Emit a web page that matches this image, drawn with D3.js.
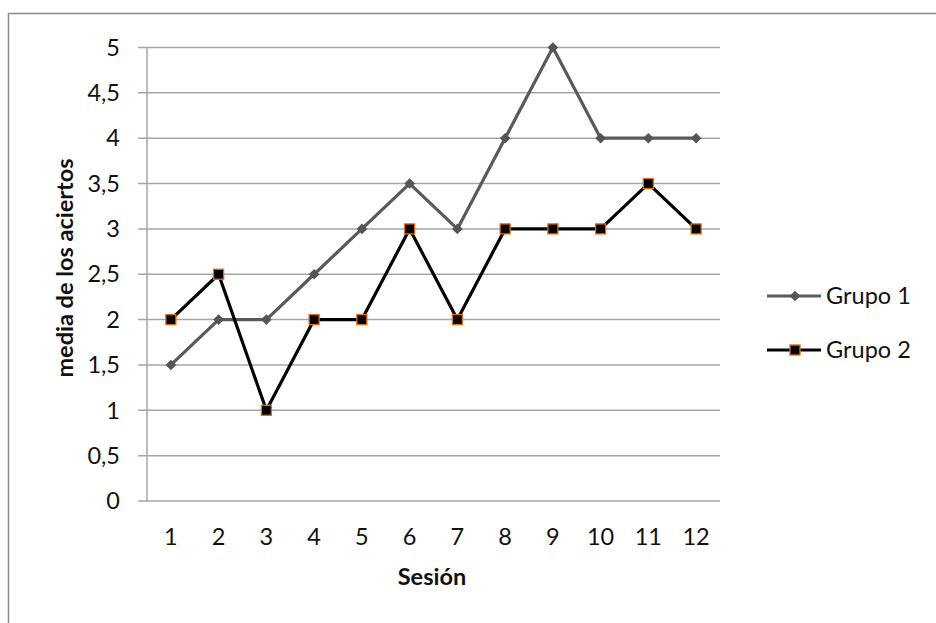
<!DOCTYPE html>
<html>
<head>
<meta charset="utf-8">
<script src="https://cdn.jsdelivr.net/npm/d3@7/dist/d3.min.js"></script>
<style>
html,body{margin:0;padding:0;background:#fff;overflow:hidden;}
text{font-family:Lato,"Open Sans",sans-serif;}
</style>
</head>
<body>
<svg id="chart" width="936" height="623"></svg>
<script>
const sessions = ["1","2","3","4","5","6","7","8","9","10","11","12"];
const grupo1 = [1.5,2,2,2.5,3,3.5,3,4,5,4,4,4];
const grupo2 = [2,2.5,1,2,2,3,2,3,3,3,3.5,3];
const yTicks = [0,0.5,1,1.5,2,2.5,3,3.5,4,4.5,5];
const seriesNames = ["Grupo 1","Grupo 2"];

const svg = d3.select("#chart");
const m = {left:147, top:47.5, right:720, bottom:501};
const FS = 23.5;

// outer frame
svg.append("rect").attr("x",8.5).attr("y",13.5).attr("width",1000).attr("height",1000)
  .attr("fill","none").attr("stroke","#8c8c8c").attr("stroke-width",1.5);

const x = d3.scaleBand().domain(sessions).range([m.left,m.right]);
const y = d3.scaleLinear().domain([0,5]).range([m.bottom,m.top]);
const fmt = d => String(d).replace(".",",");

// gridlines
svg.append("g").selectAll("line").data(yTicks).join("line")
  .attr("x1",m.left-9).attr("x2",m.right)
  .attr("y1",d=>y(d)).attr("y2",d=>y(d))
  .attr("stroke","#a6a6a6").attr("stroke-width",1.5);
// y axis line
svg.append("line").attr("x1",m.left).attr("x2",m.left).attr("y1",m.top).attr("y2",m.bottom)
  .attr("stroke","#a6a6a6").attr("stroke-width",1.5);

// y tick labels
svg.append("g").selectAll("text").data(yTicks).join("text")
  .attr("x",120).attr("y",d=>y(d)).attr("dy","0.35em")
  .attr("text-anchor","end").attr("font-size",FS).attr("fill","#111")
  .text(fmt);

// x tick labels
svg.append("g").selectAll("text").data(sessions).join("text")
  .attr("x",d=>x(d)+x.bandwidth()/2).attr("y",545)
  .attr("text-anchor","middle").attr("font-size",FS).attr("fill","#111")
  .text(d=>d);

// titles
svg.append("text").attr("x",432).attr("y",585).attr("text-anchor","middle")
  .attr("font-size",FS).attr("font-weight","bold").attr("fill","#111").text("Sesión");
svg.append("text").attr("transform","translate(73,268) rotate(-90)").attr("text-anchor","middle")
  .attr("font-size",FS).attr("font-weight","bold").attr("fill","#111").text("media de los aciertos");

const cx = (d,i)=>x(sessions[i])+x.bandwidth()/2;
const line = d3.line().x(cx).y(d=>y(d));

const diamond = d3.symbol().type(d3.symbolDiamond2).size(72);

// Grupo 1
svg.append("path").datum(grupo1).attr("d",line).attr("fill","none")
  .attr("stroke","#5a5a5a").attr("stroke-width",3.2).attr("stroke-linejoin","round");
svg.append("g").selectAll("path").data(grupo1).join("path")
  .attr("d",diamond).attr("transform",(d,i)=>`translate(${cx(d,i)},${y(d)})`)
  .attr("fill","#555");

// Grupo 2
svg.append("path").datum(grupo2).attr("d",line).attr("fill","none")
  .attr("stroke","#000").attr("stroke-width",3.2).attr("stroke-linejoin","round");
svg.append("g").selectAll("rect").data(grupo2).join("rect")
  .attr("x",(d,i)=>cx(d,i)-5).attr("y",d=>y(d)-5).attr("width",10).attr("height",10)
  .attr("fill","#000").attr("stroke","#e46c0a").attr("stroke-width",1.3);

// legend
const lg = svg.append("g");
const ly = [296, 350];
seriesNames.forEach((n,i)=>{
  lg.append("line").attr("x1",767).attr("x2",821).attr("y1",ly[i]).attr("y2",ly[i])
    .attr("stroke", i===0?"#5a5a5a":"#000").attr("stroke-width",3.2);
  if(i===0){
    lg.append("path").attr("d",diamond).attr("transform",`translate(795,${ly[i]})`).attr("fill","#555");
  } else {
    lg.append("rect").attr("x",790).attr("y",ly[i]-5).attr("width",10).attr("height",10)
      .attr("fill","#000").attr("stroke","#e46c0a").attr("stroke-width",1.3);
  }
  lg.append("text").attr("x",826).attr("y",ly[i]).attr("dy","0.35em")
    .attr("font-size",FS).attr("fill","#111").text(n);
});
</script>
</body>
</html>
